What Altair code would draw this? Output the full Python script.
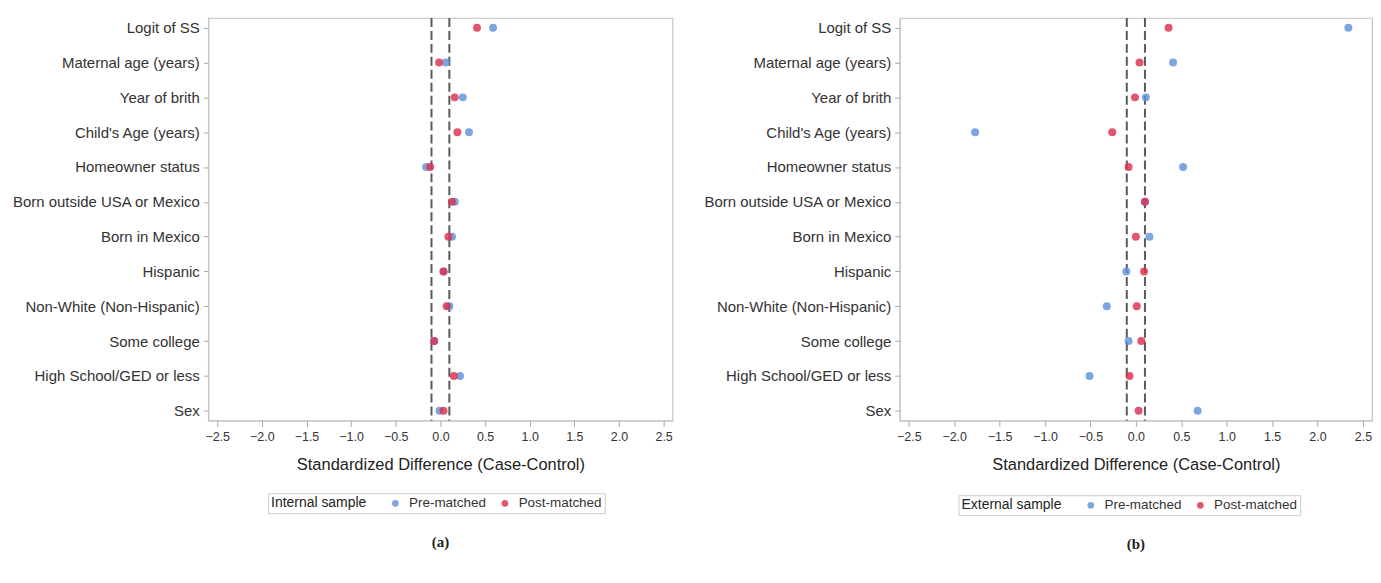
import altair as alt
import pandas as pd

variables = [
    "Logit of SS",
    "Maternal age (years)",
    "Year of brith",
    "Child's Age (years)",
    "Homeowner status",
    "Born outside USA or Mexico",
    "Born in Mexico",
    "Hispanic",
    "Non-White (Non-Hispanic)",
    "Some college",
    "High School/GED or less",
    "Sex",
]

internal_pre = [0.59, 0.06, 0.25, 0.32, -0.16, 0.16, 0.13, 0.035, 0.10, -0.07, 0.22, -0.01]
internal_post = [0.41, -0.015, 0.16, 0.19, -0.115, 0.13, 0.09, 0.035, 0.07, -0.07, 0.15, 0.035]
external_pre = [2.34, 0.41, 0.11, -1.77, 0.52, 0.10, 0.15, -0.105, -0.32, -0.08, -0.51, 0.68]
external_post = [0.36, 0.04, -0.01, -0.26, -0.08, 0.10, 0.00, 0.09, 0.01, 0.06, -0.07, 0.03]

thresholds = [-0.1, 0.1]
x_ticks = [-2.5, -2.0, -1.5, -1.0, -0.5, 0.0, 0.5, 1.0, 1.5, 2.0, 2.5]
statuses = ["Pre-matched", "Post-matched"]
colors = ["#5f92d8", "#dc304f"]

FONT = "Liberation Sans"
XTITLE = "Standardized Difference (Case-Control)"


def panel(pre, post, sample_name, caption, width, lx, ly):
    df = pd.DataFrame({
        "Variable": variables * 2,
        "Diff": pre + post,
        "Status": [statuses[0]] * len(variables) + [statuses[1]] * len(variables),
    })
    tdf = pd.DataFrame({"Diff": thresholds})
    x_enc = alt.X(
        "Diff:Q",
        title=XTITLE,
        scale=alt.Scale(domain=[-2.6, 2.6], nice=False, zero=False),
        axis=alt.Axis(values=x_ticks, format=".1f", grid=False, tickSize=6,
                      labelPadding=4, titlePadding=14, titleFontSize=16.5,
                      titleFontWeight="normal", labelFontSize=12.5),
    )
    rules = alt.Chart(tdf).mark_rule(
        strokeDash=[9, 4], color="#5a5a5a", strokeWidth=2
    ).encode(x=x_enc)
    points = alt.Chart(df).mark_circle(size=64, opacity=0.82).encode(
        x=x_enc,
        y=alt.Y(
            "Variable:N",
            sort=variables,
            title=None,
            scale=alt.Scale(type="point", padding=0.28),
            axis=alt.Axis(tickSize=5, labelPadding=4, labelFontSize=15,
                          labelLimit=400, grid=False),
        ),
        color=alt.Color(
            "Status:N",
            scale=alt.Scale(domain=statuses, range=colors),
            legend=alt.Legend(
                title=sample_name,
                orient="none",
                legendX=lx,
                legendY=ly,
                direction="horizontal",
                titleOrient="left",
                titleFontWeight="normal",
                titleFontSize=14,
                titlePadding=22,
                labelFontSize=13.5,
                labelOffset=7,
                columnPadding=12,
                symbolType="circle",
                symbolSize=45,
                strokeColor="#cccccc",
                fillColor="white",
                padding=3,
            ),
        ),
        order=alt.Order("Status:N", sort="descending"),
    )
    return alt.layer(rules, points).properties(
        width=width,
        height=404,
        title=alt.TitleParams(
            caption, orient="bottom", anchor="middle", frame="group",
            font="Liberation Serif", fontSize=15, fontWeight="bold",
            color="#222222", offset=21,
        ),
    ).resolve_scale(color="independent")


left = panel(internal_pre, internal_post, "Internal sample", "(a)", 466, 60, 477)
right = panel(external_pre, external_post, "External sample", "(b)", 474, 59, 479)

chart = alt.hconcat(left, right, spacing=28).resolve_scale(
    color="independent"
).resolve_legend(color="independent").properties(
    padding={"left": 2, "top": 7, "right": 0, "bottom": 4}
).configure(
    font=FONT,
).configure_view(
    stroke="#c4c4c4", strokeWidth=1.2
).configure_axis(
    domainColor="#c4c4c4",
    tickColor="#a8a8a8",
    labelColor="#333333",
    titleColor="#222222",
    labelFont=FONT,
    titleFont=FONT,
).configure_legend(
    labelColor="#333333",
    titleColor="#222222",
    labelFont=FONT,
    titleFont=FONT,
)

chart.save("out.html", embed_options={"renderer": "svg", "actions": False})
